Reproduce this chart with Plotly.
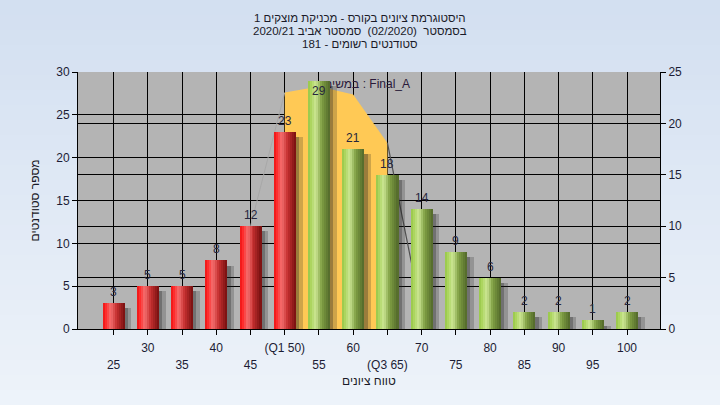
import plotly.graph_objects as go

# ---------------- data ----------------
grades = [25, 30, 35, 40, 45, 50, 55, 60, 65, 70, 75, 80, 85, 90, 95, 100]
counts = [3, 5, 5, 8, 12, 23, 29, 21, 18, 14, 9, 6, 2, 2, 1, 2]
fail_limit = 50  # bars up to this grade are red

row1_vals = [30, 40, 50, 60, 70, 80, 90, 100]
row1_text = ["30", "40", "(Q1 50)", "60", "70", "80", "90", "100"]
row2_vals = [25, 35, 45, 55, 65, 75, 85, 95]
row2_text = ["25", "35", "45", "55", "(Q3 65)", "75", "85", "95"]

curve_x = [45, 50, 55, 60, 65, 70]
curve_y = [10.0, 23.0, 23.6, 22.8, 18.1, 1.5]

left_ticks = [0, 5, 10, 15, 20, 25, 30]
right_ticks = [0, 5, 10, 15, 20, 25]

title_lines = [
    "היסטוגרמת ציונים בקורס - מכניקת מוצקים 1",
    "בסמסטר  (02/2020)  סמסטר אביב 2020/21",
    "סטודנטים רשומים - 181",
]
x_title = "טווח ציונים"
y_title = "מספר סטודנטים"
task_text = "במשימה : Final_A"

# ---------------- layout geometry ----------------
W, H = 720, 405
ML, MR, MT, MB = 78, 60, 72, 76
PW, PH = W - ML - MR, H - MT - MB
XR = [19.80, 104.82]
BW = 3.2  # bar width in x units

FONT = "Liberation Sans, Arial, sans-serif"
TXT = "#1c1c34"

fig = go.Figure()

# background bands (paper gradient)
shapes = []
nb = 27
for i in range(nb):
    t = i / (nb - 1)
    c = (int(211 + (237 - 211) * t), int(224 + (243 - 224) * t), int(241 + (250 - 241) * t))
    py0, py1 = i * H / nb, (i + 1) * H / nb + 1
    shapes.append(dict(type="rect", xref="paper", yref="paper",
                       x0=-ML / PW, x1=1 + MR / PW,
                       y0=(H - MB - py1) / PH, y1=(H - MB - py0) / PH,
                       fillcolor="rgb(%d,%d,%d)" % c, line=dict(width=0), layer="below"))
shapes.append(dict(type="rect", xref="paper", yref="paper", x0=0, x1=1, y0=0, y1=1,
                   fillcolor="#b4b4b4", line=dict(width=0), layer="below"))

# ---------------- base subplot (right axis): quartile area + line ----------------
fig.add_trace(go.Scatter(x=curve_x[1:5], y=curve_y[1:5], mode="lines", fill="tozeroy",
                         fillcolor="#ffc955", line=dict(width=0, color="#ffc955"),
                         xaxis="x", yaxis="y", hoverinfo="skip", showlegend=False))
fig.add_trace(go.Scatter(x=curve_x[0:2], y=curve_y[0:2], mode="lines",
                         line=dict(width=1, color="#a8a8a8"),
                         xaxis="x", yaxis="y", hoverinfo="skip", showlegend=False))
fig.add_trace(go.Scatter(x=curve_x[4:6], y=curve_y[4:6], mode="lines",
                         line=dict(width=1.2, color="#505050"),
                         xaxis="x", yaxis="y", hoverinfo="skip", showlegend=False))
fig.add_trace(go.Scatter(x=[68.3], y=[23.7], mode="text", text=[task_text],
                         textposition="middle left",
                         textfont=dict(family=FONT, size=12, color="#2a1a3a"),
                         xaxis="x", yaxis="y", hoverinfo="skip", showlegend=False))

# ---------------- overlay subplot (left axis): bars ----------------
# shadows
for off, wd, col in [(0.0, 0.5, "rgba(30,30,30,0.45)"), (0.5, 0.5, "rgba(30,30,30,0.22)")]:
    fig.add_trace(go.Bar(x=grades, y=[c - 0.6 for c in counts], width=wd, offset=BW / 2 + off,
                         marker=dict(color=col, line=dict(width=0)),
                         xaxis="x", yaxis="y2", hoverinfo="skip", showlegend=False))

red_stops = [(0, (235, 20, 20)), (0.12, (255, 40, 40)), (0.35, (244, 112, 112)),
             (0.62, (198, 48, 48)), (1.0, (118, 16, 16))]
green_stops = [(0, (150, 198, 72)), (0.12, (170, 212, 92)), (0.35, (204, 230, 148)),
               (0.62, (128, 160, 68)), (1.0, (82, 104, 42))]

def interp(stops, t):
    for (t0, c0), (t1, c1) in zip(stops[:-1], stops[1:]):
        if t0 <= t <= t1:
            f = (t - t0) / (t1 - t0)
            return "rgb(%d,%d,%d)" % tuple(int(a + (b - a) * f) for a, b in zip(c0, c1))
    return "rgb(%d,%d,%d)" % stops[-1][1]

N = 11
for i in range(N):
    t = (i + 0.5) / N
    cols = [interp(red_stops, t) if g <= fail_limit else interp(green_stops, t) for g in grades]
    fig.add_trace(go.Bar(x=grades, y=counts, width=BW / N * 1.08, offset=-BW / 2 + i * BW / N,
                         marker=dict(color=cols, line=dict(width=0)),
                         xaxis="x", yaxis="y2", hoverinfo="skip", showlegend=False))

# dummy traces for the helper axes (grid + second tick-label row)
fig.add_trace(go.Scatter(x=[], y=[], xaxis="x3", yaxis="y", showlegend=False))
fig.add_trace(go.Scatter(x=[], y=[], xaxis="x2", yaxis="y", showlegend=False))

# value labels
annotations = []
for g, c in zip(grades, counts):
    inside = c > left_ticks[-1] - 2
    annotations.append(dict(x=g, y=c, xref="x", yref="y2", text=str(c), showarrow=False,
                            yshift=-10 if inside else 11,
                            font=dict(family=FONT, size=12, color="#26263c")))

# titles
for k, line in enumerate(title_lines):
    py = 18 + 13 * k
    annotations.append(dict(x=(360 - ML) / PW, y=(H - MB - py) / PH, xref="paper", yref="paper",
                            text=line, showarrow=False, xanchor="center", yanchor="middle",
                            font=dict(family=FONT, size=11.5, color="#1a1a28")))
annotations.append(dict(x=0.5, y=(H - MB - 381) / PH, xref="paper", yref="paper",
                        text=x_title, showarrow=False, xanchor="center", yanchor="middle",
                        font=dict(family=FONT, size=12, color="#1a1a28")))
annotations.append(dict(x=(34 - ML) / PW, y=0.5, xref="paper", yref="paper",
                        text=y_title, showarrow=False, textangle=-90,
                        xanchor="center", yanchor="middle",
                        font=dict(family=FONT, size=12, color="#1a1a28")))

axis_font = dict(family=FONT, size=12, color=TXT)
fig.update_layout(
    width=W, height=H,
    margin=dict(l=ML, r=MR, t=MT, b=MB, autoexpand=False),
    paper_bgcolor="#e2eaf6", plot_bgcolor="rgba(0,0,0,0)",
    barmode="overlay", bargap=0, showlegend=False,
    shapes=shapes, annotations=annotations,
    xaxis=dict(range=XR, tickmode="array", tickvals=row1_vals, ticktext=row1_text,
               ticks="outside", ticklen=5, tickcolor="black", showline=True, linecolor="black",
               showgrid=False, zeroline=False, tickfont=axis_font, anchor="y", fixedrange=True,
               ticklabelstandoff=3),
    xaxis2=dict(range=XR, overlaying="x", anchor="y", tickmode="array", tickvals=grades,
                ticktext=[""] * len(grades), ticks="outside", ticklen=5, tickcolor="black",
                showgrid=True, gridcolor="black", gridwidth=1, showline=False, zeroline=False),
    xaxis3=dict(range=XR, overlaying="x", anchor="y", tickmode="array", tickvals=row2_vals,
                ticktext=row2_text, ticks="", showgrid=False, showline=False, zeroline=False,
                tickfont=axis_font, ticklabelstandoff=27),
    yaxis=dict(range=[0, 25], side="right", tickmode="array", tickvals=right_ticks,
               ticks="outside", ticklen=5, tickcolor="black", showline=True, linecolor="black",
               showgrid=True, gridcolor="black", gridwidth=1, zeroline=False, tickfont=axis_font,
               anchor="x"),
    yaxis2=dict(range=[0, 30], side="left", overlaying="y", anchor="x", tickmode="array",
                tickvals=left_ticks, ticks="outside", ticklen=5, tickcolor="black",
                showline=True, linecolor="black", showgrid=True, gridcolor="black", gridwidth=1,
                zeroline=False, tickfont=axis_font),
)

fig.write_html("out.html", config={"displayModeBar": False},
               post_script="document.body.style.margin='0';")
